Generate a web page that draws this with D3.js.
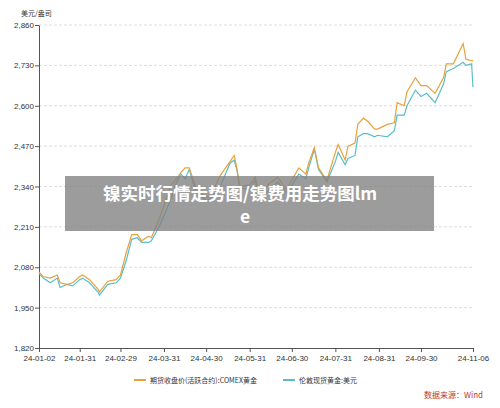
<!DOCTYPE html>
<html><head><meta charset="utf-8">
<script src="https://cdn.jsdelivr.net/npm/d3@7"></script>
<style>body{margin:0;background:#fff;font-family:"Noto Sans CJK SC","Noto Sans",sans-serif}</style>
</head><body><div id="chart"></div>
<script>
const dates = ["2024-01-02","2024-01-05","2024-01-10","2024-01-15","2024-01-17","2024-01-22","2024-01-26","2024-01-31","2024-02-02","2024-02-07","2024-02-13","2024-02-14","2024-02-20","2024-02-26","2024-02-29","2024-03-04","2024-03-08","2024-03-12","2024-03-15","2024-03-20","2024-03-22","2024-03-28","2024-04-05","2024-04-08","2024-04-12","2024-04-15","2024-04-18","2024-04-22","2024-04-23","2024-04-30","2024-05-03","2024-05-10","2024-05-17","2024-05-20","2024-05-22","2024-05-24","2024-05-31","2024-06-04","2024-06-07","2024-06-12","2024-06-14","2024-06-20","2024-06-26","2024-06-28","2024-07-05","2024-07-10","2024-07-12","2024-07-16","2024-07-19","2024-07-25","2024-07-31","2024-08-02","2024-08-07","2024-08-09","2024-08-14","2024-08-16","2024-08-20","2024-08-23","2024-08-28","2024-08-30","2024-09-06","2024-09-11","2024-09-13","2024-09-18","2024-09-20","2024-09-26","2024-09-30","2024-10-04","2024-10-10","2024-10-16","2024-10-18","2024-10-23","2024-10-30","2024-11-01","2024-11-05","2024-11-06"];
const comex = [2065,2050,2045,2055,2030,2025,2030,2050,2055,2040,2010,2000,2035,2040,2055,2125,2185,2185,2165,2180,2175,2240,2345,2360,2385,2400,2400,2345,2330,2305,2310,2375,2420,2440,2395,2340,2345,2370,2310,2340,2350,2370,2330,2345,2400,2380,2415,2465,2400,2360,2450,2475,2425,2470,2480,2540,2560,2550,2525,2525,2540,2545,2610,2600,2645,2690,2665,2665,2640,2690,2735,2735,2800,2750,2745,2745];
const london = [2060,2045,2030,2045,2015,2025,2020,2040,2045,2030,2000,1990,2025,2030,2045,2100,2170,2175,2160,2160,2165,2215,2300,2345,2380,2365,2395,2330,2320,2295,2300,2340,2415,2425,2390,2335,2330,2360,2300,2320,2330,2355,2320,2330,2380,2365,2400,2460,2395,2355,2420,2450,2410,2430,2440,2500,2510,2510,2500,2505,2500,2520,2570,2570,2600,2650,2630,2640,2610,2670,2710,2720,2740,2730,2735,2660];
const yTicks = [1820,1950,2080,2210,2340,2470,2600,2730,2860];
const xTicks = ["2024-01-02","2024-01-31","2024-02-29","2024-03-31","2024-04-30","2024-05-31","2024-06-30","2024-07-31","2024-08-31","2024-09-30","2024-11-06"];

const W = 500, H = 408, L = 39, R = 473, T = 25, B = 348;
const parse = d3.timeParse("%Y-%m-%d");
const fmt = d3.timeFormat("%y-%m-%d");
const svg = d3.select("#chart").append("svg").attr("width", W).attr("height", H);
const x = d3.scaleTime().domain([parse(dates[0]), parse(dates[dates.length-1])]).range([L, R]);
const y = d3.scaleLinear().domain([1820, 2860]).range([B, T]);

svg.append("g").selectAll("line").data(yTicks.slice(1)).enter().append("line")
  .attr("x1", L).attr("x2", R).attr("y1", d => y(d)).attr("y2", d => y(d))
  .attr("stroke", "#ddd").attr("stroke-dasharray", "3,2");

const ya = svg.append("g").attr("transform", `translate(${L},0)`)
  .call(d3.axisLeft(y).tickValues(yTicks).tickFormat(d3.format(",")).tickSize(4).tickSizeOuter(0));
const xa = svg.append("g").attr("transform", `translate(0,${B})`)
  .call(d3.axisBottom(x).tickValues(xTicks.map(parse)).tickFormat(fmt).tickSize(4).tickSizeOuter(0));
[ya, xa].forEach(a => {
  a.selectAll("path,line").attr("stroke", "#555");
  a.selectAll("text").attr("fill", "#333").style("font-size", "8px");
});
ya.selectAll("text").attr("dx", 2);

svg.append("text").attr("x", 21).attr("y", 16).text("美元/盎司").style("font-size", "7px").attr("fill", "#333");

const line = vals => d3.line().x((d, i) => x(parse(dates[i]))).y(d => y(d))(vals);
svg.append("path").attr("d", line(london)).attr("fill", "none").attr("stroke", "#5bbdc8").attr("stroke-width", 1.2);
svg.append("path").attr("d", line(comex)).attr("fill", "none").attr("stroke", "#e8a23c").attr("stroke-width", 1.2);

const legend = [["期货收盘价(活跃合约):COMEX黄金", "#e8a23c", 134], ["伦敦现货黄金:美元", "#5bbdc8", 283]];
legend.forEach(([t, c, lx]) => {
  svg.append("line").attr("x1", lx).attr("x2", lx + 12).attr("y1", 380).attr("y2", 380).attr("stroke", c).attr("stroke-width", 2);
  svg.append("text").attr("x", lx + 16).attr("y", 383).text(t).style("font-size", "7px").attr("fill", "#333");
});
svg.append("text").attr("x", 483).attr("y", 398).attr("text-anchor", "end").text("数据来源：Wind").style("font-size", "8px").attr("fill", "#c0392b");

svg.append("rect").attr("x", 65).attr("y", 176).attr("width", 369).attr("height", 55).attr("fill", "rgba(128,128,128,0.78)");
svg.append("text").attr("x", 240).attr("y", 200).attr("text-anchor", "middle").text("镍实时行情走势图/镍费用走势图lm")
  .style("font-size", "17.5px").style("font-weight", "bold").attr("fill", "#fff");
svg.append("text").attr("x", 245).attr("y", 223).attr("text-anchor", "middle").text("e")
  .style("font-size", "17.5px").style("font-weight", "bold").attr("fill", "#fff");
</script></body></html>
